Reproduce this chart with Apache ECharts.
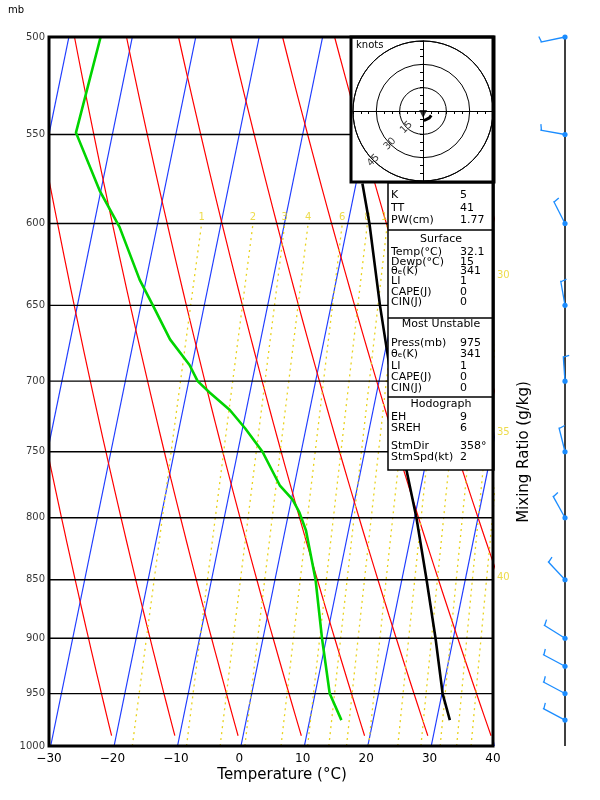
<!DOCTYPE html>
<html><head><meta charset="utf-8">
<script src="https://cdn.jsdelivr.net/npm/echarts@6/dist/echarts.min.js"></script>
<style>html,body{margin:0;padding:0;background:#fff}#c{width:600px;height:800px}</style>
</head><body><div id="c"></div>
<script>
// ---------------- data ----------------
const tempTicks = [-30, -20, -10, 0, 10, 20, 30, 40];
const pressureLevels = [500, 550, 600, 650, 700, 750, 800, 850, 900, 950, 1000];
const isothermsC = [-90, -80, -70, -60, -50, -40, -30, -20, -10, 0, 10, 20, 30, 40];
const dryAdiabatThetaC = [-30, -20, -10, 0, 10, 20, 30, 40, 50, 60, 70, 80, 90, 100, 110, 120];
const mixingRatios = [1, 2, 3, 4, 6, 8, 10, 12, 15, 20, 25, 30, 35, 40];

const tempP = [975, 950, 900, 850, 800, 750, 700, 650, 600, 577];
const tempC = [32.1, 30.1, 27.2, 23.9, 20.3, 16.0, 12.0, 7.7, 3.4, 1.0];

const dewP = [975, 950, 900, 850, 810, 796, 786, 775, 750, 733, 720, 708, 700, 689, 672, 650, 634, 602, 581, 549, 500];
const dewC = [15.0, 12.3, 9.3, 6.4, 3.3, 1.7, 0.2, -2.3, -6.1, -9.6, -12.6, -16.3, -18.6, -20.4, -24.3, -28.1, -31.0, -35.9, -40.2, -45.8, -45.0];

const windP = [975, 950, 925, 900, 850, 800, 750, 700, 650, 600, 550, 500];
const windDir = [298, 298, 298, 302, 317, 331, 346, 356, 350, 333, 280, 258];
const windSpd = [6, 6, 6, 6, 6, 6, 6, 6, 5, 5, 5, 5];

const hodoRings = [15, 30, 45];
const stormDir = 358, stormSpd = 2;

const indexLabels = ['K', 'TT', 'PW(cm)'];
const indexValues = ['5', '41', '1.77'];
const surfaceLabels = ['Temp(°C)', 'Dewp(°C)', 'θₑ(K)', 'LI', 'CAPE(J)', 'CIN(J)'];
const surfaceValues = ['32.1', '15', '341', '1', '0', '0'];
const muLabels = ['Press(mb)', 'θₑ(K)', 'LI', 'CAPE(J)', 'CIN(J)'];
const muValues = ['975', '341', '1', '0', '0'];
const hodoLabels = ['EH', 'SREH', 'StmDir', 'StmSpd(kt)'];
const hodoValues = ['9', '6', '358°', '2'];

// ---------------- helpers ----------------
const SKEW = 33, P0 = 1008;
const FONT = 'DejaVu Sans';
const BLUE = '#1f3cff', RED = '#ff0000', YEL = '#e8d21e', GREEN = '#00d400', BARB = '#1a8cff';
function skewX(t, p) { return t + SKEW * Math.log(P0 / p); }
function tdOnMixing(w, p) {
  const e = w * p / (622 + w);
  const l = Math.log(e / 6.112);
  return 243.5 * l / (17.67 - l);
}
function range(a, b, s) { const r = []; for (let v = a; s > 0 ? v <= b : v >= b; v += s) r.push(v); return r; }

const series = [];
// isotherms
isothermsC.forEach(t => series.push({
  type: 'line', xAxisIndex: 0, yAxisIndex: 0, symbol: 'none', silent: true, z: 2,
  lineStyle: { color: BLUE, width: 1.2 },
  data: [[skewX(t, 1000), 1000], [skewX(t, 500), 500]]
}));
// dry adiabats
dryAdiabatThetaC.forEach(th => series.push({
  type: 'line', xAxisIndex: 0, yAxisIndex: 0, symbol: 'none', silent: true, z: 2,
  lineStyle: { color: RED, width: 1.2 },
  data: range(990, 500, -10).map(p => [skewX((th + 273.15) * Math.pow(p / 1000, 0.286) - 273.15, p), p])
}));
// mixing ratio lines
const mixLabelTop = [], mixLabelRight = [];
mixingRatios.forEach(w => {
  series.push({
    type: 'line', xAxisIndex: 0, yAxisIndex: 0, symbol: 'none', silent: true, z: 2,
    lineStyle: { color: YEL, width: 1.3, type: [2, 4] },
    data: range(1000, 600, -10).map(p => [skewX(tdOnMixing(w, p), p), p])
  });
  const xTop = skewX(tdOnMixing(w, 600), 600);
  if (xTop <= 39) mixLabelTop.push({ value: [xTop, 600], name: String(w) });
  else {
    for (let p = 1000; p >= 600; p -= 1) {
      if (skewX(tdOnMixing(w, p), p) >= 39) { mixLabelRight.push({ value: [40, p], name: String(w) }); break; }
    }
  }
});
series.push({
  type: 'scatter', xAxisIndex: 0, yAxisIndex: 0, symbolSize: 0, silent: true, z: 3, clip: false,
  data: mixLabelTop,
  label: { show: true, position: 'top', distance: 1, formatter: '{b}', color: YEL, fontSize: 10, fontFamily: FONT }
});
series.push({
  type: 'scatter', xAxisIndex: 0, yAxisIndex: 0, symbolSize: 0, silent: true, z: 3, clip: false,
  data: mixLabelRight,
  label: { show: true, position: 'right', distance: 4, formatter: '{b}', color: YEL, fontSize: 10, fontFamily: FONT }
});
// isobars
pressureLevels.slice(1, -1).forEach(p => series.push({
  type: 'line', xAxisIndex: 0, yAxisIndex: 0, symbol: 'none', silent: true, z: 4,
  lineStyle: { color: '#000', width: 1.3 },
  data: [[-30, p], [40, p]]
}));
// pressure labels
series.push({
  type: 'scatter', xAxisIndex: 0, yAxisIndex: 0, symbolSize: 0, silent: true, z: 4, clip: false,
  data: pressureLevels.map(p => ({ value: [-30, p], name: String(p) })),
  label: { show: true, position: 'left', distance: 4, formatter: '{b}', color: '#000', fontSize: 10, fontFamily: FONT }
});
// temperature and dewpoint
series.push({
  type: 'line', xAxisIndex: 0, yAxisIndex: 0, symbol: 'none', silent: true, z: 6,
  lineStyle: { color: GREEN, width: 2.6 },
  data: dewP.map((p, i) => [skewX(dewC[i], p), p])
});
series.push({
  type: 'line', xAxisIndex: 0, yAxisIndex: 0, symbol: 'none', silent: true, z: 6,
  lineStyle: { color: '#000', width: 2.6 },
  data: tempP.map((p, i) => [skewX(tempC[i], p), p])
});
// wind staff line and barbs
series.push({
  type: 'line', xAxisIndex: 1, yAxisIndex: 1, symbol: 'none', silent: true, z: 5,
  lineStyle: { color: '#000', width: 1.5 },
  data: [[0, 500], [0, 1000]]
});
series.push({
  type: 'custom', xAxisIndex: 1, yAxisIndex: 1, silent: true, z: 6,
  data: windP.map((p, i) => [p, windDir[i], windSpd[i]]),
  renderItem: function (params, api) {
    const p = api.value(0), dir = api.value(1), spd = api.value(2);
    const c = api.coord([0, p]);
    const r = dir * Math.PI / 180;
    const dx = Math.sin(r), dy = -Math.cos(r);
    const L = 25;
    const ex = c[0] + L * dx, ey = c[1] + L * dy;
    const px = -dy, py = dx;
    const ch = [{ type: 'line', shape: { x1: c[0], y1: c[1], x2: ex, y2: ey }, style: { stroke: BARB, lineWidth: 1.3 } }];
    const s = Math.round(spd / 5) * 5;
    const full = Math.floor(s / 10), half = (s % 10) >= 5 ? 1 : 0;
    let d = L - 1;
    for (let i = 0; i < full + half; i++) {
      const len = i < full ? 11 : 6;
      const sx = c[0] + d * dx, sy = c[1] + d * dy;
      ch.push({ type: 'line', shape: { x1: sx, y1: sy, x2: sx + len * px + len * 0.25 * dx, y2: sy + len * py + len * 0.25 * dy },
        style: { stroke: BARB, lineWidth: 1.3 } });
      d -= 4;
    }
    ch.push({ type: 'circle', shape: { cx: c[0], cy: c[1], r: 2.6 }, style: { fill: BARB } });
    return { type: 'group', children: ch };
  }
});
// hodograph trace
const hodoData = [];
windP.forEach((p, i) => {
  if (p >= 700) {
    const r = windDir[i] * Math.PI / 180;
    hodoData.push([-windSpd[i] * Math.sin(r), -windSpd[i] * Math.cos(r)]);
  }
});
series.push({
  type: 'line', xAxisIndex: 2, yAxisIndex: 2, symbol: 'none', silent: true, z: 61,
  lineStyle: { color: '#000', width: 3 }, data: hodoData
});
const sr = stormDir * Math.PI / 180;
series.push({
  type: 'scatter', xAxisIndex: 2, yAxisIndex: 2, silent: true, z: 61,
  symbol: 'triangle', symbolRotate: 180, symbolSize: 8, itemStyle: { color: '#000' },
  data: [[-stormSpd * Math.sin(sr), -stormSpd * Math.cos(sr)]]
});
series.push({
  type: 'scatter', coordinateSystem: 'polar', polarIndex: 0, symbolSize: 0, silent: true, z: 61,
  data: hodoRings.map(r => ({ value: [r, 225], name: String(r) })),
  label: { show: true, position: 'inside', formatter: '{b}', rotate: 45, color: '#000', fontSize: 10, fontFamily: FONT }
});

// ---------------- graphic (boxes, texts) ----------------
const graphic = [];
const T = (x, y, text, opt) => Object.assign({
  type: 'text', x, y, z: 52,
  style: Object.assign({ text, fill: '#000', font: '11px "' + FONT + '"', align: 'left', verticalAlign: 'middle' }, opt || {})
});
// main frame
graphic.push({ type: 'rect', z: 55, shape: { x: 49, y: 37, width: 444, height: 709 }, style: { fill: null, stroke: '#000', lineWidth: 3 } });
// hodograph box
graphic.push({ type: 'rect', z: 50, shape: { x: 351, y: 37, width: 143, height: 145 }, style: { fill: '#fff', stroke: '#000', lineWidth: 3 } });
graphic.push(T(356, 45, 'knots', { font: '10px "' + FONT + '"' }));
// table
const tx0 = 388, tx1 = 494, sec = [183, 230, 318, 397, 470];
graphic.push({ type: 'rect', z: 50, shape: { x: tx0, y: sec[0], width: tx1 - tx0, height: sec[4] - sec[0] }, style: { fill: '#fff', stroke: '#000', lineWidth: 1.5 } });
[sec[1], sec[2], sec[3]].forEach(y => graphic.push({ type: 'line', z: 51, shape: { x1: tx0, y1: y, x2: tx1, y2: y }, style: { stroke: '#000', lineWidth: 1.5 } }));
const lx = 391, vx = 460, hx = 441;
[195, 208, 220.5].forEach((y, i) => { graphic.push(T(lx, y, indexLabels[i])); graphic.push(T(vx, y, indexValues[i])); });
graphic.push(T(hx, 239, 'Surface', { align: 'center' }));
[252, 262, 271.5, 281.5, 292, 302.5].forEach((y, i) => { graphic.push(T(lx, y, surfaceLabels[i])); graphic.push(T(vx, y, surfaceValues[i])); });
graphic.push(T(hx, 324.5, 'Most Unstable', { align: 'center' }));
[343.5, 354.5, 366, 377.5, 388.5].forEach((y, i) => { graphic.push(T(lx, y, muLabels[i])); graphic.push(T(vx, y, muValues[i])); });
graphic.push(T(hx, 404.5, 'Hodograph', { align: 'center' }));
[417.5, 428.5, 446, 457.5].forEach((y, i) => { graphic.push(T(lx, y, hodoLabels[i])); graphic.push(T(vx, y, hodoValues[i])); });
// titles
graphic.push(T(8, 10, 'mb', { font: '10px "' + FONT + '"' }));
graphic.push(T(282, 775, 'Temperature (°C)', { font: '15px "' + FONT + '"', align: 'center' }));
graphic.push({ type: 'text', x: 524, y: 452, rotation: Math.PI / 2, z: 52,
  style: { text: 'Mixing Ratio (g/kg)', fill: '#000', font: '15px "' + FONT + '"', align: 'center', verticalAlign: 'middle' } });

// ---------------- chart ----------------
const chart = echarts.init(document.getElementById('c'), null, { renderer: 'canvas' });
chart.setOption({
  animation: false,
  backgroundColor: '#fff',
  textStyle: { fontFamily: FONT },
  grid: [
    { left: 49, top: 37, width: 444, height: 709, show: false },
    { left: 540, top: 37, width: 50, height: 709, show: false },
    { left: 353, top: 41, width: 140, height: 140, show: false }
  ],
  xAxis: [
    { gridIndex: 0, type: 'value', min: -30, max: 40, interval: 10,
      axisLine: { show: false }, axisTick: { show: false }, splitLine: { show: false },
      axisLabel: { fontSize: 12, color: '#000', margin: 7, fontFamily: FONT, formatter: v => String(v).replace('-', '−') } },
    { gridIndex: 1, type: 'value', min: -1, max: 1, show: false },
    { gridIndex: 2, type: 'value', min: -45, max: 45, interval: 5, z: 60,
      axisLine: { onZero: true, lineStyle: { color: '#000', width: 1 } },
      axisTick: { show: true, length: 3, lineStyle: { color: '#000' } },
      axisLabel: { show: false }, splitLine: { show: false } }
  ],
  yAxis: [
    { gridIndex: 0, type: 'log', min: 500, max: 1000, inverse: true,
      axisLine: { show: false }, axisTick: { show: false }, axisLabel: { show: false }, splitLine: { show: false } },
    { gridIndex: 1, type: 'log', min: 500, max: 1000, inverse: true, show: false },
    { gridIndex: 2, type: 'value', min: -45, max: 45, interval: 5, z: 60,
      axisLine: { onZero: true, lineStyle: { color: '#000', width: 1 } },
      axisTick: { show: true, length: 3, lineStyle: { color: '#000' } },
      axisLabel: { show: false }, splitLine: { show: false } }
  ],
  polar: { center: [423, 111], radius: 70 },
  radiusAxis: { min: 0, max: 45, interval: 15, z: 60,
    axisLine: { show: false }, axisTick: { show: false }, axisLabel: { show: false },
    splitLine: { show: true, lineStyle: { color: '#000', width: 1 } } },
  angleAxis: { min: 0, max: 360, z: 60,
    axisLine: { show: true, lineStyle: { color: '#000', width: 1 } },
    axisTick: { show: false }, axisLabel: { show: false }, splitLine: { show: false } },
  graphic: graphic,
  series: series
});
</script>
</body></html>
